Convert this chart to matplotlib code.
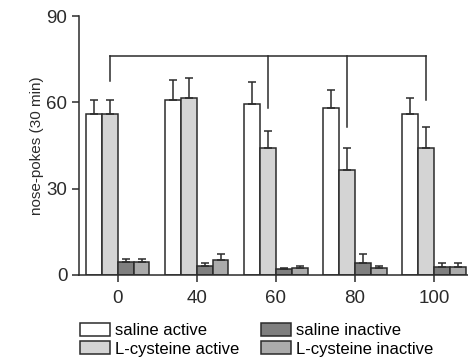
import numpy as np
import matplotlib
matplotlib.use("Agg")
import matplotlib.pyplot as plt

plt.rcParams['font.family'] = ['Liberation Sans', 'DejaVu Sans']

# data
doses = ["0", "40", "60", "80", "100"]
saline_active = [56, 61, 59.5, 58, 56]
saline_active_err = [4.8, 6.8, 7.6, 6.2, 5.5]
lcys_active = [56, 61.5, 44, 36.5, 44]
lcys_active_err = [5, 7.1, 6.2, 7.6, 7.6]
saline_inactive = [4.5, 3.1, 1.9, 4.3, 2.9]
saline_inactive_err = [1.0, 1.1, 0.6, 3.1, 1.3]
lcys_inactive = [4.5, 5.3, 2.3, 2.4, 2.9]
lcys_inactive_err = [1.0, 2.1, 0.9, 0.8, 1.3]

labels = ["saline active", "L-cysteine active", "saline inactive", "L-cysteine inactive"]
colors = ["white", "#d4d4d4", "#7f7f7f", "#ababab"]

fig = plt.figure(figsize=(4.68, 3.58), dpi=100)
ax = fig.add_axes([0.169, 0.232, 0.831, 0.723])

x = np.arange(len(doses))
w = 0.2
series = [(saline_active, saline_active_err), (lcys_active, lcys_active_err),
          (saline_inactive, saline_inactive_err), (lcys_inactive, lcys_inactive_err)]
for i, (vals, errs) in enumerate(series):
    pos = x + (i - 1.5) * w
    ax.bar(pos, vals, w, color=colors[i], edgecolor="#2b2b2b", linewidth=1.1,
           label=labels[i], zorder=2)
    ax.errorbar(pos, vals, yerr=[np.zeros(len(errs)), errs], fmt="none",
                ecolor="#2b2b2b", elinewidth=1.1, capsize=3, capthick=1.1, zorder=3)

# significance bracket: from L-cys active at 0 to L-cys active at 60, 80, 100
br_y = 76
ends = [(x[0] - 0.5 * w, 67.5), (x[2] - 0.5 * w, 58), (x[3] - 0.5 * w, 51.5), (x[4] - 0.5 * w, 61)]
ax.plot([ends[0][0], ends[-1][0]], [br_y, br_y], color="#2b2b2b", lw=1.1)
for ex, ey in ends:
    ax.plot([ex, ex], [ey, br_y], color="#2b2b2b", lw=1.1)

ax.set_xlim(-0.49, 4.43)
ax.set_ylim(0, 90)
ax.set_yticks([0, 30, 60, 90])
ax.set_xticks(x)
ax.set_xticklabels(doses)
ax.spines["top"].set_visible(False)
ax.spines["right"].set_visible(False)
for s in ["left", "bottom"]:
    ax.spines[s].set_linewidth(1.1)
    ax.spines[s].set_color("#2b2b2b")
ax.tick_params(axis="both", labelsize=13.5, width=1.1, length=5, color="#2b2b2b", colors="#2b2b2b")
ax.tick_params(axis="x", pad=6)
ax.set_ylabel("nose-pokes (30 min)", fontsize=11, color="#2b2b2b", labelpad=2)

fig.legend(loc="upper left", bbox_to_anchor=(0.172, 0.098), ncol=2, frameon=False,
           fontsize=12, handlelength=1.8, handleheight=0.8, handletextpad=0.3,
           labelspacing=0.2, columnspacing=1.3, borderpad=0, borderaxespad=0)

fig.savefig("out.png", dpi=100)
